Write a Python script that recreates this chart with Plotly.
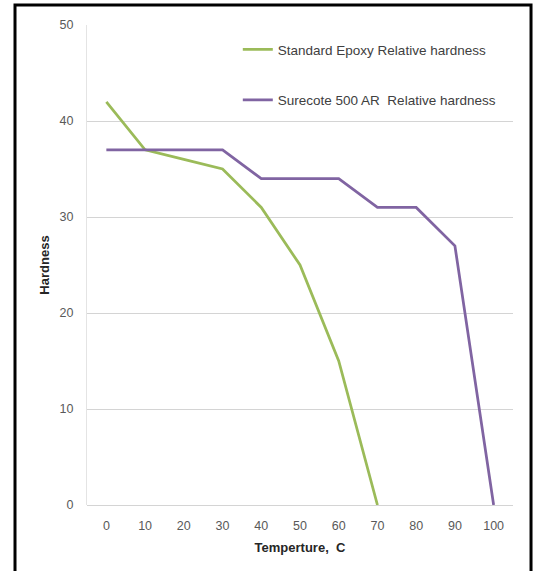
import plotly.graph_objects as go

temps_epoxy = [0, 10, 20, 30, 40, 50, 60, 70]
hard_epoxy = [42, 37, 36, 35, 31, 25, 15, 0]
temps_surecote = [0, 10, 20, 30, 40, 50, 60, 70, 80, 90, 100]
hard_surecote = [37, 37, 37, 37, 34, 34, 34, 31, 31, 27, 0]
x_ticks = [0, 10, 20, 30, 40, 50, 60, 70, 80, 90, 100]
y_ticks = [0, 10, 20, 30, 40, 50]

font_family = "Liberation Sans, Arial, sans-serif"

fig = go.Figure()
fig.add_trace(go.Scatter(
    x=temps_epoxy, y=hard_epoxy, mode="lines",
    name="Standard Epoxy Relative hardness",
    line=dict(color="#9bbb59", width=2.75),
    legendgroup="a",
))
fig.add_trace(go.Scatter(
    x=temps_surecote, y=hard_surecote, mode="lines",
    name="Surecote 500 AR  Relative hardness",
    line=dict(color="#8064a2", width=2.75),
    legendgroup="b",
))

fig.update_layout(
    width=537, height=571,
    margin=dict(l=87, r=24, t=25, b=66, autoexpand=False),
    paper_bgcolor="white", plot_bgcolor="white",
    font=dict(family=font_family, size=12.5, color="#595959"),
    legend=dict(
        x=0.354, y=0.981, xanchor="left", yanchor="top",
        bgcolor="rgba(0,0,0,0)", tracegroupgap=30,
        font=dict(size=13.5, color="#404040"),
    ),
    xaxis=dict(
        range=[-5, 105], tickmode="array", tickvals=x_ticks,
        ticktext=[str(v) for v in x_ticks],
        showgrid=False, zeroline=False, showline=False,
        ticks="outside", ticklen=9, tickcolor="rgba(0,0,0,0)", automargin=False,
        title=dict(text="<b>Temperture,  C</b>", font=dict(size=13, color="#262626"), standoff=10),
    ),
    yaxis=dict(
        range=[0, 50], tickmode="array", tickvals=y_ticks,
        showgrid=True, gridcolor="#d4d4d4", gridwidth=1,
        zeroline=True, zerolinecolor="#d4d4d4", zerolinewidth=1,
        showline=True, linecolor="#e4e4e4", linewidth=1,
        ticks="outside", ticklen=10, tickcolor="rgba(0,0,0,0)",
        automargin=False,
        title=dict(text="<b>Hardness</b>", font=dict(size=13, color="#262626"), standoff=7),
    ),
    shapes=[dict(
        type="rect", xref="paper", yref="paper",
        x0=-0.169, x1=1.0423, y0=-0.146, y1=1.0417,
        line=dict(color="black", width=3), fillcolor="rgba(0,0,0,0)",
        layer="above",
    )],
)

fig.write_html(
    "out.html",
    config={"displayModeBar": False},
    post_script="document.body.style.margin='0px';",
)
